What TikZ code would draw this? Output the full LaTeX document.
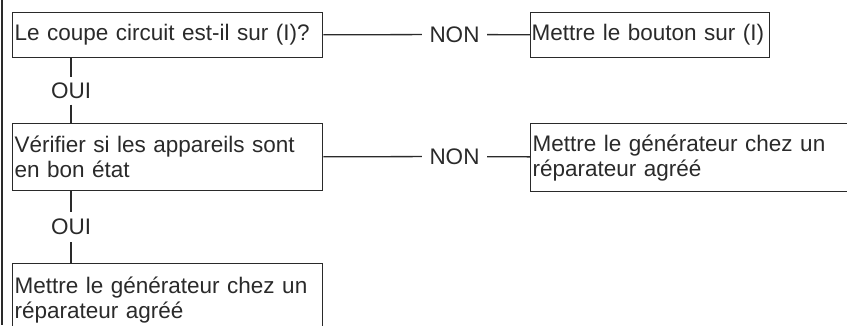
\documentclass[tikz,border=0pt]{standalone}
\usepackage{fontspec}
\setmainfont{Liberation Sans}
\usetikzlibrary{positioning}
\definecolor{ink}{HTML}{2A2A2A}

\begin{document}
\begin{tikzpicture}[x=1pt, y=-1pt,
    box/.style={rectangle, draw=ink, line width=1.3pt, align=left,
      text width=306pt, inner xsep=2pt, inner ysep=0pt, anchor=north west,
      font=\fontsize{22.5}{25}\selectfont, text=ink},
    tag/.style={rectangle, inner sep=0pt, font=\fontsize{22.5}{25}\selectfont, text=ink},
    link/.style={draw=ink, line width=1.3pt}
  ]
    \useasboundingbox (0,0) rectangle (847,325);
    \clip (0,0) rectangle (847,325);
    % frame edge on the left
    \draw[link] (2,0) -- (2,325);

    % first question
    \node[box, minimum height=45pt] (ask) at (12,12) {Le coupe circuit est-il sur (I)?};
    \node[tag, minimum width=65pt] (non1) at (454.5,34.5) {NON};
    \node[box, minimum height=45pt, text width=237pt, inner xsep=1pt] (bouton) at (530,12) {Mettre le bouton sur (I)};
    \draw[link] (ask) -- (non1) -- (bouton);

    \node[tag, minimum height=27pt] (oui1) at (71,91) {OUI};
    \draw[link] (ask.south -| oui1) -- (oui1);

    % second question
    \node[box, minimum height=67pt] (verif) at (12,123) {V\'erifier si les appareils sont\\en bon \'etat};
    \node[tag, minimum width=65pt] (non2) at (454.5,156.5) {NON};
    \node[box, minimum height=68pt, text width=330pt] (repar) at (530,123) {Mettre le g\'en\'erateur chez un\\r\'eparateur agr\'e\'e};
    \draw[link] (oui1) -- (oui1 |- verif.north);
    \draw[link] (verif) -- (non2) -- (repar);

    \node[tag, minimum height=30pt] (oui2) at (71,227) {OUI};
    \draw[link] (verif.south -| oui2) -- (oui2);

    % last step
    \node[box, minimum height=72pt] (reparbis) at (12,263) {Mettre le g\'en\'erateur chez un\\r\'eparateur agr\'e\'e};
    \draw[link] (oui2) -- (oui2 |- reparbis.north);
  \end{tikzpicture}
\end{document}
